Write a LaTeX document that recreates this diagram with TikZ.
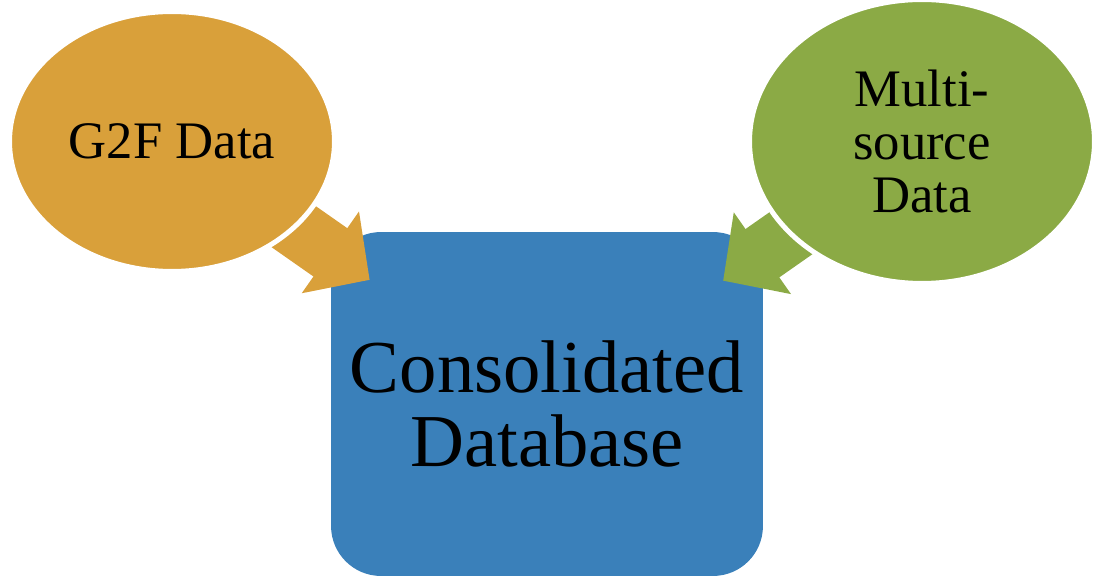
\documentclass[tikz,border=0pt]{standalone}
\usepackage{fontspec}
\setmainfont{Liberation Serif}
\usepackage{xcolor}
\usetikzlibrary{arrows.meta,shapes.geometric}
\definecolor{gold}{HTML}{D9A03A}
\definecolor{leaf}{HTML}{8BAA45}
\definecolor{sea}{HTML}{3A80BA}
\pgfdeclarelayer{back}
\pgfdeclarelayer{mid}
\pgfsetlayers{back,mid,main}
\tikzstyle{blob}=[ellipse, inner sep=0pt, draw=white, line width=0.1cm, align=center, font=\fontsize{30}{30}\selectfont]
\tikzstyle{feed}=[line width=1.18cm, line cap=butt, -{Triangle[width=1.94cm, length=0.96cm]}]

\begin{document}
\begin{tikzpicture}[x=0.02cm, y=-0.02cm]
    \useasboundingbox (0,0) rectangle (1099,577);
    % Draw the two data sources
    \node[blob, fill=gold, minimum width=6.5cm, minimum height=5.2cm] (g2f) at (172,141.5) {G2F Data};
    \node[blob, fill=leaf, minimum width=6.9cm, minimum height=5.68cm] (multi) at (922,141.5) {Multi-\\source\\Data};

    % Draw the database box
    \begin{pgfonlayer}{back}
    \node[fill=sea, rounded corners=1cm, minimum width=8.64cm, minimum height=6.88cm, align=center,
          font=\fontsize{42.5}{42.5}\selectfont] (db) at (547,404) {Consolidated\\Database};
    \end{pgfonlayer}

    % Arrows into the database
    \begin{pgfonlayer}{mid}
    \draw[feed, gold, shorten <=-0.3cm, shorten >=4.33cm] (g2f) -- (db.center);
    \draw[feed, leaf, shorten <=-0.3cm, shorten >=4.3cm] (multi) -- (db.center);
    \end{pgfonlayer}
\end{tikzpicture}
\end{document}
